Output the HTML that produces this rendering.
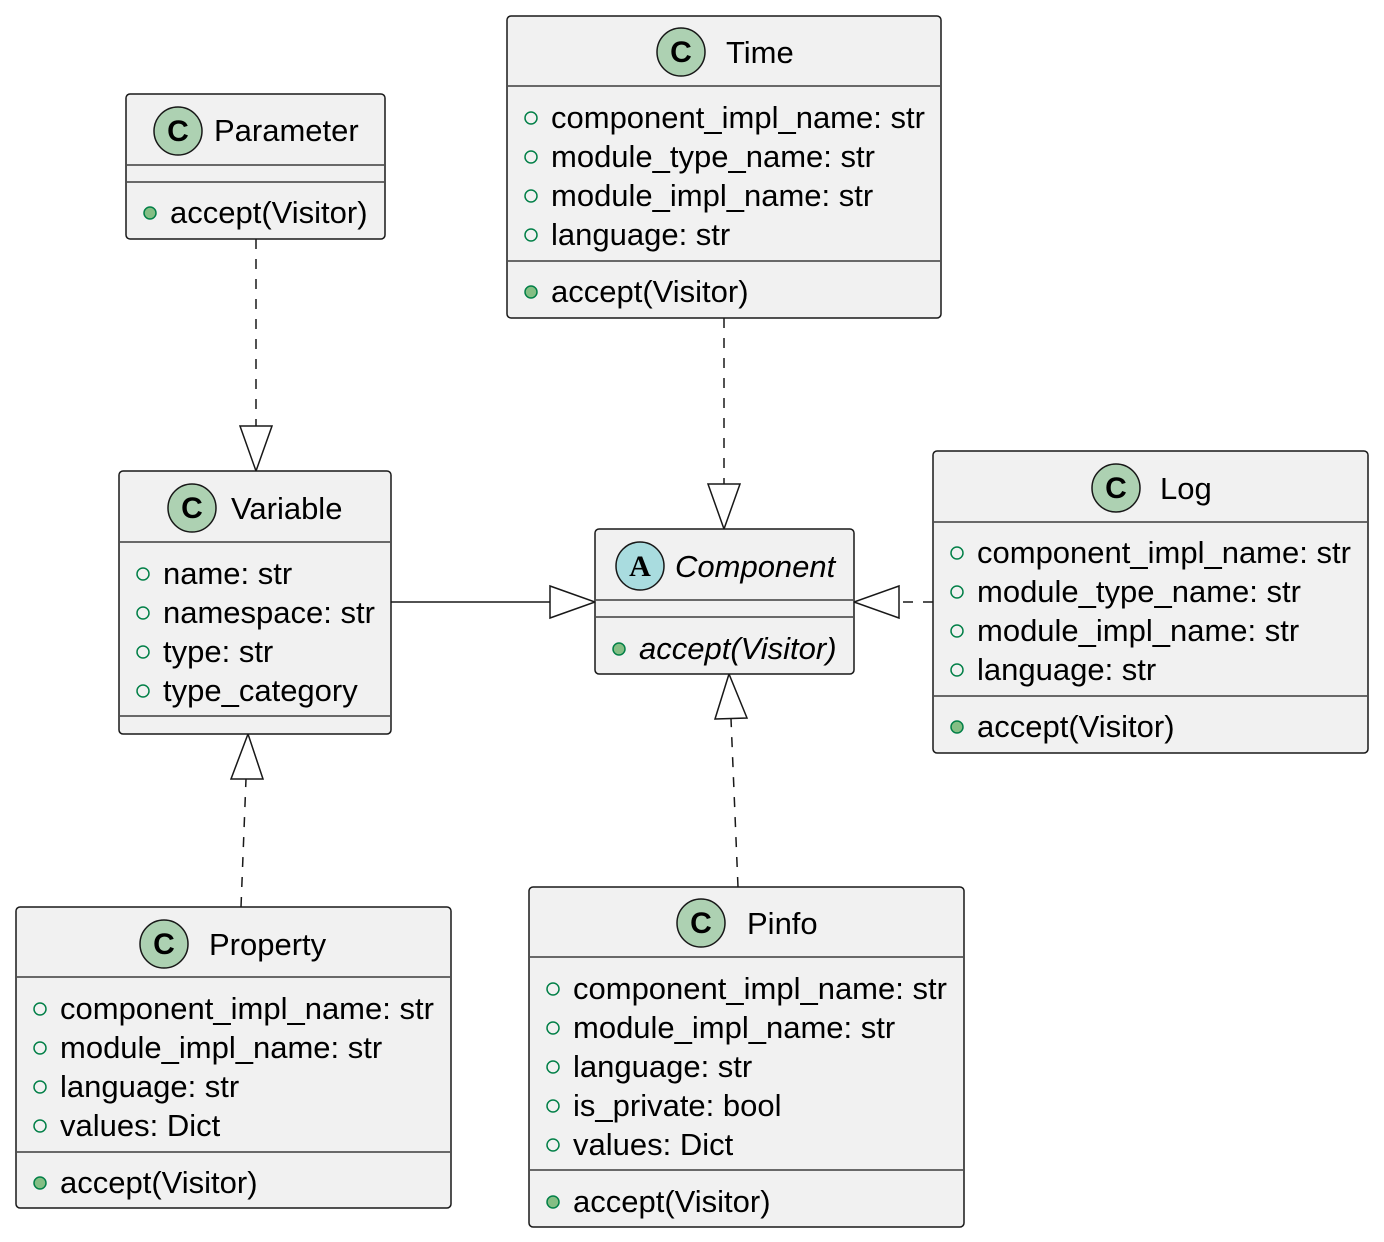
<!DOCTYPE html>
<html><head><meta charset="utf-8"><style>
html,body{margin:0;padding:0;background:#fff;}
svg{display:block;}
text{font-family:"Liberation Sans",Arial,sans-serif;font-size:31px;fill:#000;}
.box{fill:#F1F1F1;stroke:#181818;stroke-width:1.5;}
.sep{stroke:#181818;stroke-width:1.2;}
.att{fill:none;stroke:#038048;stroke-width:1.5;}
.met{fill:#84BE84;stroke:#038048;stroke-width:1.5;}
.ic{fill:#ADD1B2;stroke:#181818;stroke-width:1.5;}
.ia{fill:#A9DCDF;stroke:#181818;stroke-width:1.5;}
.ln{stroke:#181818;stroke-width:1.5;fill:none;}
.dash{stroke-dasharray:10,10;}
.tri{fill:#fff;stroke:#181818;stroke-width:1.5;}
.cl{font-weight:bold;font-size:30px;}
</style></head><body>
<svg width="1384" height="1242" viewBox="0 0 1384 1242" xmlns="http://www.w3.org/2000/svg">
<line class="ln dash" x1="256" y1="239" x2="256" y2="426"/>
<polygon class="tri" points="240,426 272,426 256,471"/>
<line class="ln dash" x1="724" y1="318" x2="724" y2="484"/>
<polygon class="tri" points="708,484 740,484 724,529"/>
<line class="ln" x1="391" y1="602" x2="550" y2="602"/>
<polygon class="tri" points="550,586 550,618 595,602"/>
<line class="ln dash" x1="933" y1="602" x2="899" y2="602"/>
<polygon class="tri" points="899,586 899,618 854,602"/>
<line class="ln dash" x1="738" y1="887" x2="731" y2="719"/>
<polygon class="tri" points="715,719 747,718 729,674"/>
<line class="ln dash" x1="241" y1="907" x2="246" y2="779"/>
<polygon class="tri" points="231,779 263,779 248,734"/>

<rect class="box" x="126" y="94" width="259" height="145" rx="4"/>
<circle class="ic" cx="178" cy="131" r="24"/><text x="178" y="141" text-anchor="middle" class="cl">C</text>
<text x="214" y="141">Parameter</text>
<line class="sep" x1="127" y1="165" x2="384" y2="165"/>
<line class="sep" x1="127" y1="182" x2="384" y2="182"/>
<circle class="met" cx="150" cy="213" r="6"/><text x="170" y="223">accept(Visitor)</text>

<rect class="box" x="507" y="16" width="434" height="302" rx="4"/>
<circle class="ic" cx="681" cy="52" r="24"/><text x="681" y="62" text-anchor="middle" class="cl">C</text>
<text x="726" y="63">Time</text>
<line class="sep" x1="508" y1="86" x2="940" y2="86"/>
<circle class="att" cx="531" cy="118" r="6"/><text x="551" y="128">component_impl_name: str</text>
<circle class="att" cx="531" cy="157" r="6"/><text x="551" y="167">module_type_name: str</text>
<circle class="att" cx="531" cy="196" r="6"/><text x="551" y="206">module_impl_name: str</text>
<circle class="att" cx="531" cy="235" r="6"/><text x="551" y="245">language: str</text>
<line class="sep" x1="508" y1="261" x2="940" y2="261"/>
<circle class="met" cx="531" cy="292" r="6"/><text x="551" y="302">accept(Visitor)</text>

<rect class="box" x="119" y="471" width="272" height="263" rx="4"/>
<circle class="ic" cx="192" cy="508" r="24"/><text x="192" y="518" text-anchor="middle" class="cl">C</text>
<text x="231" y="519">Variable</text>
<line class="sep" x1="120" y1="542" x2="390" y2="542"/>
<circle class="att" cx="143" cy="574" r="6"/><text x="163" y="584">name: str</text>
<circle class="att" cx="143" cy="613" r="6"/><text x="163" y="623">namespace: str</text>
<circle class="att" cx="143" cy="652" r="6"/><text x="163" y="662">type: str</text>
<circle class="att" cx="143" cy="691" r="6"/><text x="163" y="701">type_category</text>
<line class="sep" x1="120" y1="716" x2="390" y2="716"/>

<rect class="box" x="595" y="529" width="259" height="145" rx="4"/>
<circle class="ia" cx="640" cy="566" r="24"/><text x="640" y="576" text-anchor="middle" class="cl" style="font-family:'Liberation Serif',serif">A</text>
<text x="675" y="577" font-style="italic">Component</text>
<line class="sep" x1="596" y1="600" x2="853" y2="600"/>
<line class="sep" x1="596" y1="617" x2="853" y2="617"/>
<circle class="met" cx="619" cy="649" r="6"/><text x="639" y="659" font-style="italic">accept(Visitor)</text>

<rect class="box" x="933" y="451" width="435" height="302" rx="4"/>
<circle class="ic" cx="1116" cy="488" r="24"/><text x="1116" y="498" text-anchor="middle" class="cl">C</text>
<text x="1160" y="499">Log</text>
<line class="sep" x1="934" y1="522" x2="1367" y2="522"/>
<circle class="att" cx="957" cy="553" r="6"/><text x="977" y="563">component_impl_name: str</text>
<circle class="att" cx="957" cy="592" r="6"/><text x="977" y="602">module_type_name: str</text>
<circle class="att" cx="957" cy="631" r="6"/><text x="977" y="641">module_impl_name: str</text>
<circle class="att" cx="957" cy="670" r="6"/><text x="977" y="680">language: str</text>
<line class="sep" x1="934" y1="696" x2="1367" y2="696"/>
<circle class="met" cx="957" cy="727" r="6"/><text x="977" y="737">accept(Visitor)</text>

<rect class="box" x="16" y="907" width="435" height="301" rx="4"/>
<circle class="ic" cx="164" cy="944" r="24"/><text x="164" y="954" text-anchor="middle" class="cl">C</text>
<text x="209" y="955">Property</text>
<line class="sep" x1="17" y1="977" x2="450" y2="977"/>
<circle class="att" cx="40" cy="1009" r="6"/><text x="60" y="1019">component_impl_name: str</text>
<circle class="att" cx="40" cy="1048" r="6"/><text x="60" y="1058">module_impl_name: str</text>
<circle class="att" cx="40" cy="1087" r="6"/><text x="60" y="1097">language: str</text>
<circle class="att" cx="40" cy="1126" r="6"/><text x="60" y="1136">values: Dict</text>
<line class="sep" x1="17" y1="1152" x2="450" y2="1152"/>
<circle class="met" cx="40" cy="1183" r="6"/><text x="60" y="1193">accept(Visitor)</text>

<rect class="box" x="529" y="887" width="435" height="340" rx="4"/>
<circle class="ic" cx="701" cy="923" r="24"/><text x="701" y="933" text-anchor="middle" class="cl">C</text>
<text x="747" y="934">Pinfo</text>
<line class="sep" x1="530" y1="957" x2="963" y2="957"/>
<circle class="att" cx="553" cy="989" r="6"/><text x="573" y="999">component_impl_name: str</text>
<circle class="att" cx="553" cy="1028" r="6"/><text x="573" y="1038">module_impl_name: str</text>
<circle class="att" cx="553" cy="1067" r="6"/><text x="573" y="1077">language: str</text>
<circle class="att" cx="553" cy="1106" r="6"/><text x="573" y="1116">is_private: bool</text>
<circle class="att" cx="553" cy="1145" r="6"/><text x="573" y="1155">values: Dict</text>
<line class="sep" x1="530" y1="1170" x2="963" y2="1170"/>
<circle class="met" cx="553" cy="1202" r="6"/><text x="573" y="1212">accept(Visitor)</text>
</svg>
</body></html>
